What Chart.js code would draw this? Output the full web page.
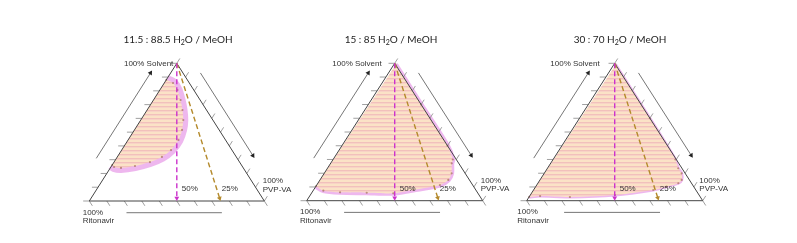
<!DOCTYPE html>
<html>
<head>
<meta charset="utf-8">
<title>Ternary phase diagrams</title>
<script src="https://cdn.jsdelivr.net/npm/chart.js@4.4.1/dist/chart.umd.min.js"></script>
<style>
  html, body { margin: 0; padding: 0; background: #fff; }
  #wrap { position: relative; width: 797px; height: 243px; }
  #wrap canvas { position: absolute; left: 0; top: 0; }
</style>
</head>
<body>
<div id="wrap">
  <canvas id="tri1" width="797" height="243"></canvas>
  <canvas id="tri2" width="797" height="243"></canvas>
  <canvas id="tri3" width="797" height="243"></canvas>
</div>
<script>
// H2O : MeOH ratio of each diagram
const titles = ['11.5 : 88.5 H₂O / MeOH', '15 : 85 H₂O / MeOH', '30 : 70 H₂O / MeOH'];
const solventLabel = ['100% Solvent'];
const pvpvaLabel = ['100%', 'PVP-VA'];
const ritonavirLabel = ['100%', 'Ritonavir'];
const tickPercents = [0, 10, 20, 30, 40, 50, 60, 70, 80, 90, 100];
// ritonavir share of the solids along the two dilution lines
const loadings = [50, 25];
const loadingLabels = ['50%', '25%'];

// phase boundary: % solvent and % PVP-VA (ritonavir = rest)
const solvent1 = [88, 85.7, 80.6, 73.3, 66.1, 58.8, 51.6, 44.3, 37, 32, 28.3, 25.4, 24, 24.7, 26.1];
const pvpva1   = [0, 5.0, 10.1, 15.5, 20.2, 24.3, 27.2, 28.8, 28.2, 25.5, 20.5, 13.4, 6.1, 1.8, 0];
const solvent2 = [99, 70, 40, 30, 27.2, 19.9, 15.1, 11.4, 7.8, 5.4, 5.8, 6.1, 7.3, 10.5];
const pvpva2   = [1, 30, 60, 68, 68.8, 72.4, 72.9, 70, 56.7, 46.5, 31.2, 15.9, 5.8, 0];
const solvent3 = [99, 60, 30, 23.6, 19.9, 15.1, 12.7, 10.2, 7.8, 4.1, 2.7, 3.4, 2.7];
const pvpva3   = [1, 40, 69.5, 74.3, 78.1, 80.5, 79.8, 74.4, 68, 48.1, 23.2, 5.9, 0];

const panels = [
  { id: 'tri1', title: titles[0], solvent: solvent1, pvpva: pvpva1, box: [89.3, 63.3, 175, 137.7],
    titleX: 178, band: 10, solventDx: -3.5, pvpvaDx: -1.6, ritonavirDx: -6.6 },
  { id: 'tri2', title: titles[1], solvent: solvent2, pvpva: pvpva2, box: [306.7, 63.3, 176, 137.4],
    titleX: 391, band: 5, solventDx: -13, pvpvaDx: -2, ritonavirDx: -6.7 },
  { id: 'tri3', title: titles[2], solvent: solvent3, pvpva: pvpva3, box: [526.7, 63.3, 176, 137.4],
    titleX: 620, band: 3, solventDx: -15, pvpvaDx: -3.4, ritonavirDx: -9.4 }
];

const LABEL_FONT = "8px 'Liberation Sans', Arial, sans-serif";
const TITLE_FONT = "10px Lato, 'Open Sans', sans-serif";
const SUB_FONT = "7px Lato, 'Open Sans', sans-serif";
const TICK_LEN = 3.5;
const gap = { x: null, y: null };

// ternary composition -> unit triangle (Ritonavir bottom left, PVP-VA bottom right, Solvent top)
const toXY = (s, p) => ({ x: (p + s / 2) / 100, y: s / 100 });

function tickData() {
  let pts = [];
  tickPercents.forEach(t => {
    pts.push(toXY(t, 0), toXY(t, -TICK_LEN), gap);
    pts.push(toXY(t, 100 - t), toXY(t + TICK_LEN, 100 - t), gap);
    pts.push(toXY(0, t), toXY(-TICK_LEN, t + TICK_LEN), gap);
  });
  return pts;
}

function dilution(load) {
  let end = 2;
  return [toXY(100, 0), toXY(end, (100 - end) * (100 - load) / 100)];
}

// rotate the arrow head along the last segment, in pixels
function headAngle(ctx) {
  let data = ctx.dataset.data, i = ctx.dataIndex;
  if (!i) return 0;
  let { x, y } = ctx.chart.scales;
  let dx = x.getPixelForValue(data[i].x) - x.getPixelForValue(data[i - 1].x);
  let dy = y.getPixelForValue(data[i].y) - y.getPixelForValue(data[i - 1].y);
  return Math.atan2(dx, -dy) * 180 / Math.PI;
}

function arrow(data, color, head, width, dash) {
  return {
    data, showLine: true, clip: false, order: 0,
    borderColor: color, borderWidth: width, borderDash: dash,
    pointRadius: [0, 2.8], pointStyle: 'triangle', pointRotation: headAngle,
    pointBackgroundColor: head, pointBorderWidth: 0
  };
}

function stripes(canvas) {
  let c = document.createElement('canvas');
  c.width = 4; c.height = 4;
  let g = c.getContext('2d');
  g.fillStyle = '#fbe2c6'; g.fillRect(0, 0, 4, 4);
  g.fillStyle = '#f2c0bc'; g.fillRect(0, 2, 4, 1);
  g.fillStyle = '#f8d3c6'; g.fillRect(0, 3, 4, 1);
  return canvas.getContext('2d').createPattern(c, 'repeat');
}

function drawTitle(ctx, text, cx, cy) {
  let parts = text.split('₂');
  ctx.font = TITLE_FONT;
  let w0 = ctx.measureText(parts[0]).width, w2 = ctx.measureText(parts[1]).width;
  ctx.font = SUB_FONT;
  let ws = ctx.measureText('2').width;
  let x = cx - (w0 + ws + w2) / 2;
  ctx.fillStyle = '#222';
  ctx.textBaseline = 'middle';
  ctx.textAlign = 'left';
  ctx.font = TITLE_FONT; ctx.fillText(parts[0], x, cy);
  ctx.font = SUB_FONT; ctx.fillText('2', x + w0, cy + 3);
  ctx.font = TITLE_FONT; ctx.fillText(parts[1], x + w0 + ws, cy);
}

function textPlugin(panel) {
  return {
    id: 'ternaryText',
    afterDraw(chart) {
      let { ctx, scales: { x, y } } = chart;
      let px = (s, p) => { let q = toXY(s, p); return [x.getPixelForValue(q.x), y.getPixelForValue(q.y)]; };
      ctx.save();
      drawTitle(ctx, panel.title, panel.titleX, 40);

      ctx.font = LABEL_FONT;
      ctx.fillStyle = '#333';
      ctx.textBaseline = 'middle';
      let [sx, sy] = px(100, 0);
      ctx.textAlign = 'right';
      ctx.fillText(solventLabel[0], sx + panel.solventDx, sy + 0.5);
      ctx.textAlign = 'left';
      let [vx, vy] = px(0, 100);
      pvpvaLabel.forEach((t, i) => ctx.fillText(t, vx + panel.pvpvaDx, vy - 20 + i * 8.3));
      let [rx, ry] = px(0, 0);
      ritonavirLabel.forEach((t, i) => ctx.fillText(t, rx + panel.ritonavirDx, ry + 11.5 + i * 8.3));

      loadings.forEach((load, i) => {
        let s = 8.7;
        let [lx, ly] = px(s, (100 - s) * (100 - load) / 100);
        ctx.fillText(loadingLabels[i], lx + 5, ly);
      });
      ctx.restore();
    }
  };
}

panels.forEach(panel => {
  let canvas = document.getElementById(panel.id);
  let [left, top, w, h] = panel.box;
  let curve = panel.solvent.map((s, i) => toXY(s, panel.pvpva[i]));

  new Chart(canvas.getContext('2d'), {
    type: 'scatter',
    data: {
      datasets: [
        arrow(dilution(loadings[0]), '#cc33cc', '#cc33cc', 1.4, [5, 3]),
        arrow(dilution(loadings[1]), '#b48a2c', '#b48a2c', 1.4, [5, 3]),
        arrow([toXY(31, -11.5), toXY(93, -11.5)], '#666', '#222', 0.9, []),
        arrow([toXY(93, 17), toXY(33, 77)], '#666', '#222', 0.9, []),
        arrow([toXY(-8.5, 80), toXY(-8.5, 25.5)], '#666', '#222', 0.9, []),
        {
          // triangle edges
          data: [toXY(100, 0), toXY(0, 100), toXY(0, 0), toXY(100, 0)],
          showLine: true, clip: false, order: 1,
          borderColor: '#444', borderWidth: 1, pointRadius: 0
        },
        {
          data: tickData(), showLine: true, clip: false, order: 2,
          borderColor: '#888', borderWidth: 0.8, pointRadius: 0, spanGaps: false
        },
        {
          // measured points along the boundary
          data: curve, showLine: false, clip: false, order: 2,
          pointRadius: 1.1, pointBackgroundColor: 'rgba(150,95,70,0.6)', pointBorderWidth: 0
        },
        {
          // two phase region
          data: curve, showLine: true, fill: 'shape', order: 3,
          backgroundColor: stripes(canvas), borderColor: 'transparent', borderWidth: 0,
          tension: 0.25, pointRadius: 0
        },
        {
          data: curve, showLine: true, clip: false, order: 4,
          borderColor: 'rgba(221,112,221,0.5)', borderWidth: panel.band,
          tension: 0.25, pointRadius: 0
        }
      ]
    },
    options: {
      responsive: false,
      animation: false,
      devicePixelRatio: 1,
      events: [],
      layout: { padding: { left, top, right: 797 - left - w, bottom: 243 - top - h } },
      plugins: {
        legend: { display: false },
        tooltip: { enabled: false }
      },
      scales: {
        x: { type: 'linear', min: 0, max: 1, display: false },
        y: { type: 'linear', min: 0, max: 1, display: false }
      }
    },
    plugins: [textPlugin(panel)]
  });
});
</script>
</body>
</html>
